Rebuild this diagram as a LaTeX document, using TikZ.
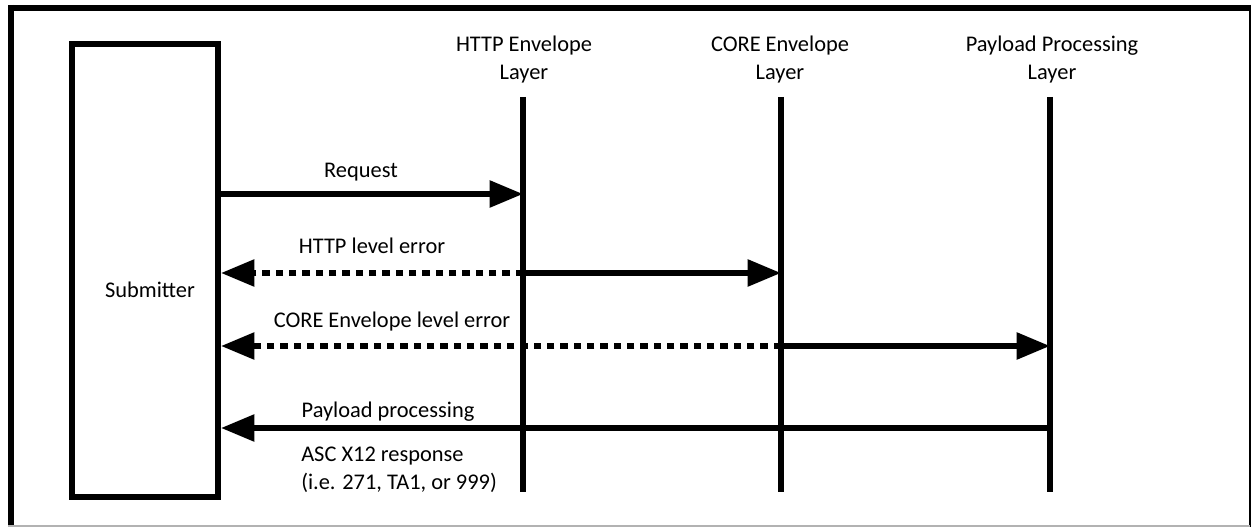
\documentclass[tikz,border=0pt]{standalone}
\usepackage{fontspec}
\setmainfont{Carlito}
\usetikzlibrary{arrows.meta, positioning}

\tikzset{
  layer/.style={line width=4pt},
  msg/.style={line width=4.2pt},
  err/.style={line width=4.2pt, dash pattern=on 5.5pt off 4.5pt},
  tip/.style={-{Triangle[length=25pt,width=19.5pt]}},
  lbl/.style={font=\fontsize{16.8}{21}\selectfont, inner sep=0pt},
  head/.style={font=\fontsize{16.8}{21}\selectfont, align=center, inner sep=0pt},
}

\begin{document}
\begin{tikzpicture}[x=0.75pt, y=-0.75pt]
    \useasboundingbox (0,0) rectangle (1253,527);
    % frame
    \draw[line width=4.5pt] (8,8) -- (1250,8);
    \draw[line width=4.5pt] (11,5) -- (11,527);
    \draw[line width=1.5pt] (1250,5) -- (1250,527);
    \draw[line width=1pt, gray!60] (8,526) -- (1250,526);

    % submitter
    \node[draw, line width=4.5pt, minimum width=109.5pt, minimum height=339.75pt,
          inner sep=0pt] (sub) at (145,270.5) {};
    \node[lbl] (subtxt) at (150,290) {Submitter};

    % layers
    \node[head] (http) at (524,60) {HTTP Envelope\\Layer};
    \node[head] (core) at (780,60) {CORE Envelope\\Layer};
    \node[head] (pay) at (1052,60) {Payload Processing\\Layer};
    \coordinate (httptop) at (523,97);
    \coordinate (httpbot) at (523,492);
    \coordinate (coretop) at (781,97);
    \coordinate (corebot) at (781,492);
    \coordinate (paytop) at (1050,97);
    \coordinate (paybot) at (1050,492);
    \draw[layer] (httptop) -- (httpbot);
    \draw[layer] (coretop) -- (corebot);
    \draw[layer] (paytop) -- (paybot);

    % messages
    \coordinate (req) at (523,194);
    \coordinate (herr) at (523,273);
    \coordinate (herr2) at (781,273);
    \coordinate (cerr) at (781,346);
    \coordinate (cerr2) at (1050,346);
    \coordinate (resp) at (1050,428);
    \coordinate (subR) at (221,0);

    \draw[msg,tip] (subR |- req) -- (req);
    \node[lbl] (reqtxt) at (361,172) {Request};

    \draw[msg,tip] (herr) -- (herr2);
    \draw[err,tip] (herr) -- (subR |- herr);
    \node[lbl] (herrtxt) at (372,246) {HTTP level error};

    \draw[msg,tip] (cerr) -- (cerr2);
    \draw[err,tip] (cerr) -- (subR |- cerr);
    \node[lbl] (cerrtxt) at (392,322) {CORE Envelope level error};

    \draw[msg,tip] (resp) -- (subR |- resp);
    \node[lbl] (resptxt) at (388,412) {Payload processing};
    \node[lbl, align=left, anchor=west] (x12txt) at (301,470)
        {ASC X12 response\\(i.e. 271, TA1, or 999)};
\end{tikzpicture}
\end{document}
